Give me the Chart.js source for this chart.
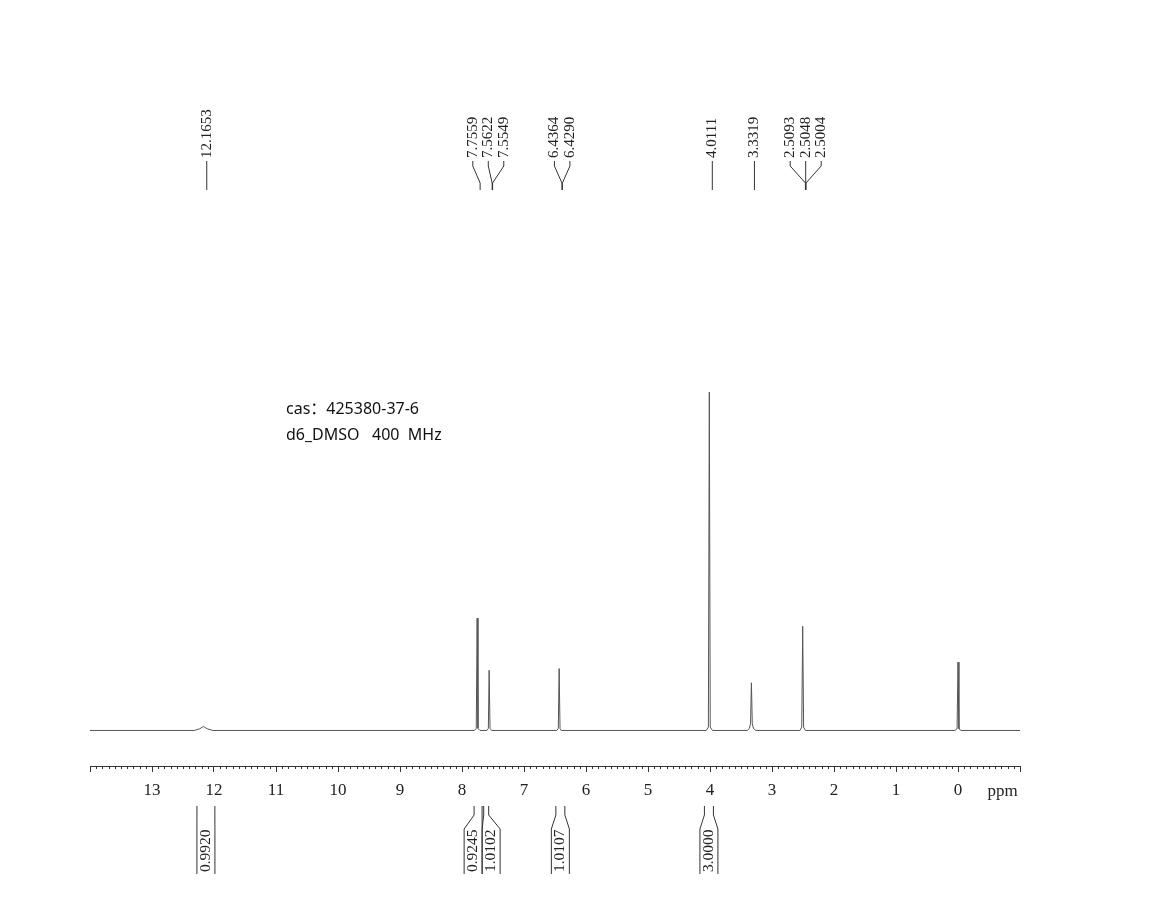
<!DOCTYPE html>
<html>
<head>
<meta charset="utf-8">
<script src="https://cdn.jsdelivr.net/npm/chart.js@4.4.1/dist/chart.umd.min.js"></script>
<style>
  html, body { margin: 0; padding: 0; background: #ffffff; }
  #wrap { width: 1169px; height: 903px; position: relative; }
</style>
</head>
<body>
<div id="wrap"><canvas id="c" width="1169" height="903"></canvas></div>
<script>
// ---- spectrum (ppm, relative intensity; 4.0111 peak = 100) ----
const spectrumPpm = [14.0, 12.32, 12.23, 12.17, 12.11, 12.02,
  7.80, 7.770, 7.756, 7.742, 7.71,
  7.60, 7.575, 7.562, 7.548, 7.52,
  6.47, 6.447, 6.433, 6.419, 6.40,
  4.06, 4.026, 4.011, 3.996, 3.96,
  3.40, 3.365, 3.346, 3.332, 3.318, 3.299, 3.26,
  2.55, 2.520, 2.505, 2.490, 2.46,
  0.05, 0.015, 0.0, -0.015, -0.05, -1.0];
const spectrumInt = [0, 0, 0.5, 1.2, 0.5, 0,
  0, 0.6, 33.2, 0.6, 0,
  0, 0.6, 17.8, 0.6, 0,
  0, 0.6, 18.3, 0.6, 0,
  0, 1.0, 100, 1.0, 0,
  0, 0.6, 2.0, 14.1, 2.0, 0.6, 0,
  0, 1.0, 30.8, 1.0, 0,
  0, 0.5, 20.2, 0.5, 0, 0];

// ---- axis ----
const axisMin = -1, axisMax = 14;
const tickLabelValues = [13, 12, 11, 10, 9, 8, 7, 6, 5, 4, 3, 2, 1, 0];

// ---- peak picking labels ----
const peakValues = [12.1653, 7.7559, 7.5622, 7.5549, 6.4364, 6.4290, 4.0111, 3.3319, 2.5093, 2.5048, 2.5004];
const peakGroups = [0, 1, 1, 1, 2, 2, 3, 4, 5, 5, 5];

// ---- integrals ----
const integralFrom = [12.275, 7.805, 7.650, 6.486, 4.090];
const integralTo   = [11.986, 7.676, 7.570, 6.341, 3.945];
const integralValues = [0.9920, 0.9245, 1.0102, 1.0107, 3.0000];

// ---- annotation ----
const noteLines = ['cas\uFF1A425380-37-6', 'd6_DMSO   400  MHz'];

const serif = '"Liberation Serif", "DejaVu Serif", serif';

const nmrPlugin = {
  id: 'nmr',
  afterDraw(chart) {
    const ctx = chart.ctx;
    const xs = chart.scales.x;
    const axisY = chart.chartArea.bottom;
    const labelShift = 3;
    ctx.save();
    ctx.strokeStyle = '#333';
    ctx.fillStyle = '#222';
    ctx.lineWidth = 1;

    // minor ticks
    ctx.beginPath();
    for (let k = axisMin * 10; k <= axisMax * 10; k++) {
      if (k % 10 === 0) continue;
      const px = Math.round(xs.getPixelForValue(k / 10)) + 0.5;
      ctx.moveTo(px, axisY);
      ctx.lineTo(px, axisY + 3);
    }
    ctx.stroke();

    // ppm unit label
    ctx.font = '17px ' + serif;
    ctx.textAlign = 'center';
    ctx.textBaseline = 'middle';
    ctx.fillText('ppm', xs.getPixelForValue(-0.72), 792);

    // peak labels
    ctx.font = '15px ' + serif;
    const groups = {};
    peakValues.forEach((v, i) => {
      (groups[peakGroups[i]] = groups[peakGroups[i]] || []).push(v);
    });
    Object.keys(groups).forEach(g => {
      const vals = groups[g];
      const pxs = vals.map(v => xs.getPixelForValue(v) + labelShift);
      const center = pxs.reduce((a, b) => a + b, 0) / pxs.length;
      const n = vals.length;
      vals.forEach((v, i) => {
        const lx = n === 1 ? pxs[i] : center + (i - (n - 1) / 2) * 15.5;
        const px = pxs[i];
        ctx.beginPath();
        ctx.moveTo(lx, 161);
        if (n > 1) {
          ctx.lineTo(lx, 166);
          ctx.lineTo(px, 183);
        }
        ctx.lineTo(px, 190);
        ctx.stroke();
        ctx.save();
        ctx.translate(lx, 158);
        ctx.rotate(-Math.PI / 2);
        ctx.textAlign = 'left';
        ctx.textBaseline = 'middle';
        ctx.fillText(v.toFixed(4), 0, 0);
        ctx.restore();
      });
    });

    // integrals
    const half = 9;
    const boxes = integralValues.map((v, i) => {
      const l = xs.getPixelForValue(integralFrom[i]);
      const r = xs.getPixelForValue(integralTo[i]);
      const c = (l + r) / 2;
      const w = Math.max(half, (r - l) / 2);
      return { l, r, ol: c - w, or: c + w, v };
    });
    for (let i = 1; i < boxes.length; i++) {
      const a = boxes[i - 1], b = boxes[i];
      const o = a.or - b.ol;
      if (o > 0) { a.ol -= o / 2; a.or -= o / 2; b.ol += o / 2; b.or += o / 2; }
    }
    boxes.forEach(b => {
      ctx.beginPath();
      ctx.moveTo(b.l, 806); ctx.lineTo(b.l, 815); ctx.lineTo(b.ol, 829); ctx.lineTo(b.ol, 874);
      ctx.moveTo(b.r, 806); ctx.lineTo(b.r, 815); ctx.lineTo(b.or, 829); ctx.lineTo(b.or, 874);
      ctx.stroke();
      ctx.save();
      ctx.translate((b.ol + b.or) / 2, 872);
      ctx.rotate(-Math.PI / 2);
      ctx.textAlign = 'left';
      ctx.textBaseline = 'middle';
      ctx.font = '15.5px ' + serif;
      ctx.fillText(b.v.toFixed(4), 0, 0);
      ctx.restore();
    });

    // annotation
    ctx.font = '16px "Noto Sans", "Noto Sans CJK SC", sans-serif';
    ctx.textAlign = 'left';
    ctx.textBaseline = 'middle';
    ctx.fillStyle = '#111';
    ctx.fillText(noteLines[0], 286, 409);
    ctx.fillText(noteLines[1], 286, 435);
    ctx.restore();
  }
};

new Chart(document.getElementById('c'), {
  type: 'line',
  data: {
    datasets: [{
      data: spectrumPpm.map((p, i) => ({ x: p, y: spectrumInt[i] })),
      borderColor: '#555',
      borderWidth: 1,
      pointRadius: 0,
      tension: 0,
      fill: false
    }]
  },
  options: {
    responsive: false,
    animation: false,
    events: [],
    layout: { padding: { left: 90, right: 149, top: 20, bottom: 0 } },
    plugins: { legend: { display: false }, tooltip: { enabled: false } },
    scales: {
      x: {
        type: 'linear',
        reverse: true,
        min: axisMin,
        max: axisMax,
        afterFit(scale) { scale.height = 137; },
        afterBuildTicks(scale) {
          const t = [];
          for (let v = axisMin; v <= axisMax; v++) t.push({ value: v });
          scale.ticks = t;
        },
        ticks: {
          autoSkip: false,
          maxRotation: 0,
          padding: 8,
          color: '#222',
          font: { family: serif, size: 17 },
          callback: (v) => tickLabelValues.includes(v) ? String(v) : ''
        },
        grid: { drawOnChartArea: false, drawTicks: true, tickLength: 6, color: '#333' },
        border: { display: true, color: '#333', width: 1 }
      },
      y: {
        display: false,
        min: -10.5,
        max: 210
      }
    }
  },
  plugins: [nmrPlugin]
});
</script>
</body>
</html>
